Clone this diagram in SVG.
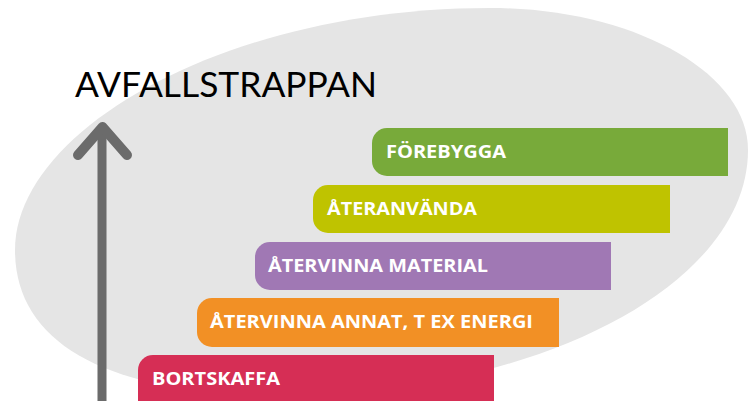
<svg xmlns="http://www.w3.org/2000/svg" width="752" height="401" viewBox="0 0 752 401">
  <style>
    .lbl { font-family: "Open Sans", "Liberation Sans", sans-serif; font-weight: 700; font-size: 17px; fill: #ffffff; }
    .title { font-family: "Lato", "Liberation Sans", sans-serif; font-weight: 400; font-size: 35px; fill: #000000; }
    .axis { stroke: #6b6b6b; fill: none; stroke-linecap: round; stroke-linejoin: round; }
  </style>
  <rect width="752" height="401" fill="#ffffff"/>
  <path id="backdrop" d="M490,8 C632,8 748,72 748,150 C748,285 538,395 280,395 C108,395 15,344 15,250 C15,129 228,8 490,8 Z" fill="#e5e5e5"/>
  <text class="title" x="75" y="97" textLength="302" lengthAdjust="spacingAndGlyphs">AVFALLSTRAPPAN</text>
  <g id="connectors">
    <line class="axis" x1="102" y1="130" x2="102" y2="410" stroke-width="9" stroke-linecap="butt"/>
    <polyline class="axis" points="78,155 102.5,127 127,155" stroke-width="10"/>
  </g>
  <g id="forebygga">
    <path d="M387,128 H728 V176 H387 A15,15 0 0 1 372,161 V143 A15,15 0 0 1 387,128 Z" fill="#78aa3a"/>
    <text class="lbl" x="386" y="158" textLength="120" lengthAdjust="spacingAndGlyphs">FÖREBYGGA</text>
  </g>
  <g id="ateranvanda">
    <path d="M328,185 H670 V233 H328 A15,15 0 0 1 313,218 V200 A15,15 0 0 1 328,185 Z" fill="#bfc300"/>
    <text class="lbl" x="327" y="215" textLength="150" lengthAdjust="spacingAndGlyphs">ÅTERANVÄNDA</text>
  </g>
  <g id="atervinna-material">
    <path d="M270,242 H611 V290 H270 A15,15 0 0 1 255,275 V257 A15,15 0 0 1 270,242 Z" fill="#a078b4"/>
    <text class="lbl" x="268" y="272" textLength="220" lengthAdjust="spacingAndGlyphs">ÅTERVINNA MATERIAL</text>
  </g>
  <g id="atervinna-annat">
    <path d="M212,298 H559 V347 H212 A15,15 0 0 1 197,332 V313 A15,15 0 0 1 212,298 Z" fill="#f29025"/>
    <text class="lbl" x="210" y="328" textLength="323" lengthAdjust="spacingAndGlyphs">ÅTERVINNA ANNAT, T EX ENERGI</text>
  </g>
  <g id="bortskaffa">
    <path d="M153,355 H494 V420 H153 A15,15 0 0 1 138,405 V370 A15,15 0 0 1 153,355 Z" fill="#d62e55"/>
    <text class="lbl" x="152" y="385" textLength="128" lengthAdjust="spacingAndGlyphs">BORTSKAFFA</text>
  </g>
</svg>
